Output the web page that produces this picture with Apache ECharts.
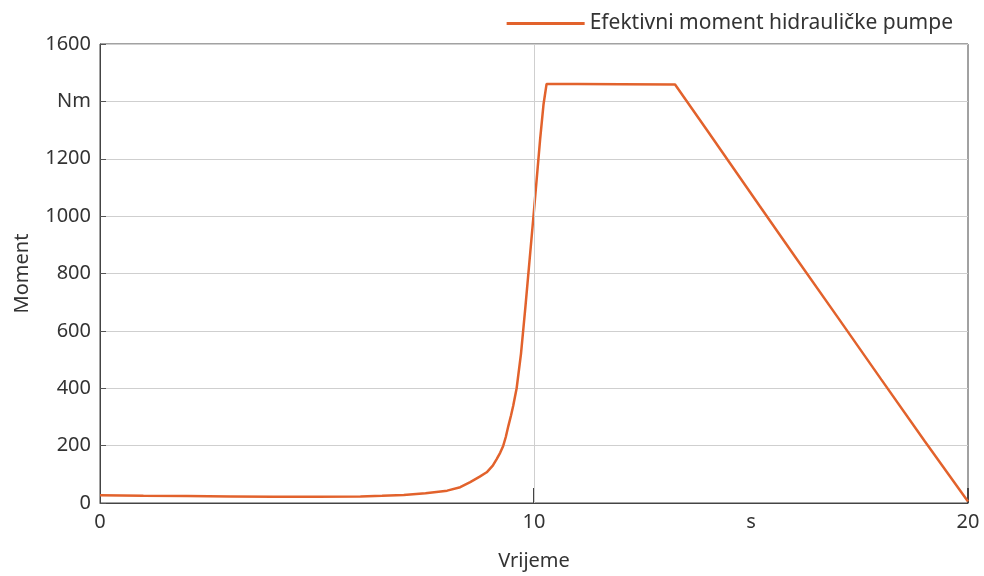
<!DOCTYPE html>
<html><head><meta charset="utf-8">
<script src="https://cdn.jsdelivr.net/npm/echarts@6/dist/echarts.min.js"></script>
<style>html,body{margin:0;padding:0;background:#fff}#c{width:984px;height:576px}</style>
</head><body><div id="c"></div>
<script>
const seriesName = 'Efektivni moment hidrauličke pumpe';
const times  = [0, 1, 2, 3, 4, 5, 6, 6.5, 7, 7.5, 8, 8.3, 8.53, 8.75, 8.91, 9.05, 9.14, 9.22, 9.29, 9.35, 9.41, 9.47, 9.52, 9.6, 9.7, 9.8, 9.9, 10.0, 10.08, 10.14, 10.22, 10.29, 11, 12, 13.25, 14, 15.2, 16, 17, 18, 19, 20];
const moment = [27, 25, 24, 23, 22, 22, 23, 25, 28, 34, 43, 55, 73, 92, 107, 130, 153, 175, 199, 230, 269, 305, 338, 400, 520, 680, 850, 1020, 1160, 1266, 1390, 1461, 1461, 1460, 1459, 1297, 1035, 862, 647, 431, 216, 5];
const yLabelMap = {1400: 'Nm'};
const xLabelMap = {0: '0', 10: '10', 15: 's', 20: '20'};
const xLabelValues = [0, 10, 15, 20];
const xTickValues = [10, 20];

const font = 'Noto Sans';
const fs = 20;
const chart = echarts.init(document.getElementById('c'));
chart.setOption({
  animation: false,
  textStyle: {fontFamily: font},
  legend: {
    right: 26, top: 8,
    itemWidth: 78, itemHeight: 22,
    itemGap: 8,
    textStyle: {fontSize: 21, color: '#333', fontFamily: font},
    data: [{name: seriesName, icon: 'path://M0,0 L78,0 L78,3 L0,3 Z'}]
  },
  grid: {left: 100, right: 16, top: 44, bottom: 72, show: true, borderColor: '#444', borderWidth: 1},
  xAxis: {
    type: 'value', min: 0, max: 20, interval: 5,
    name: 'Vrijeme', nameLocation: 'middle', nameGap: 48,
    nameTextStyle: {fontSize: fs, color: '#333', fontFamily: font},
    axisLine: {show: true, lineStyle: {color: '#444'}},
    axisTick: {show: true, inside: true, length: 15, customValues: xTickValues, lineStyle: {color: '#444', width: 2}},
    axisLabel: {fontSize: fs, color: '#333', margin: 9, customValues: xLabelValues, formatter: v => xLabelMap[v] ?? ''},
    splitLine: {show: false}
  },
  yAxis: {
    type: 'value', min: 0, max: 1600, interval: 200,
    name: 'Moment', nameLocation: 'middle', nameGap: 68,
    nameTextStyle: {fontSize: fs, color: '#333', fontFamily: font},
    axisLine: {show: true, lineStyle: {color: '#444'}},
    axisTick: {show: true, inside: true, length: 6, lineStyle: {color: '#555'}},
    axisLabel: {fontSize: fs, color: '#333', margin: 9, formatter: v => yLabelMap[v] ?? String(v)},
    splitLine: {show: true, lineStyle: {color: '#cfcfcf', width: 1}}
  },
  series: [{
    name: seriesName, type: 'line', showSymbol: false,
    data: times.map((t, i) => [t, moment[i]]),
    lineStyle: {color: '#e2622c', width: 2.5},
    itemStyle: {color: '#e2622c'},
    markLine: {
      silent: true, symbol: 'none', label: {show: false},
      lineStyle: {color: '#cfcfcf', width: 1, type: 'solid'},
      data: [{xAxis: 10}]
    },
    z: 3
  }]
});
</script></body></html>
